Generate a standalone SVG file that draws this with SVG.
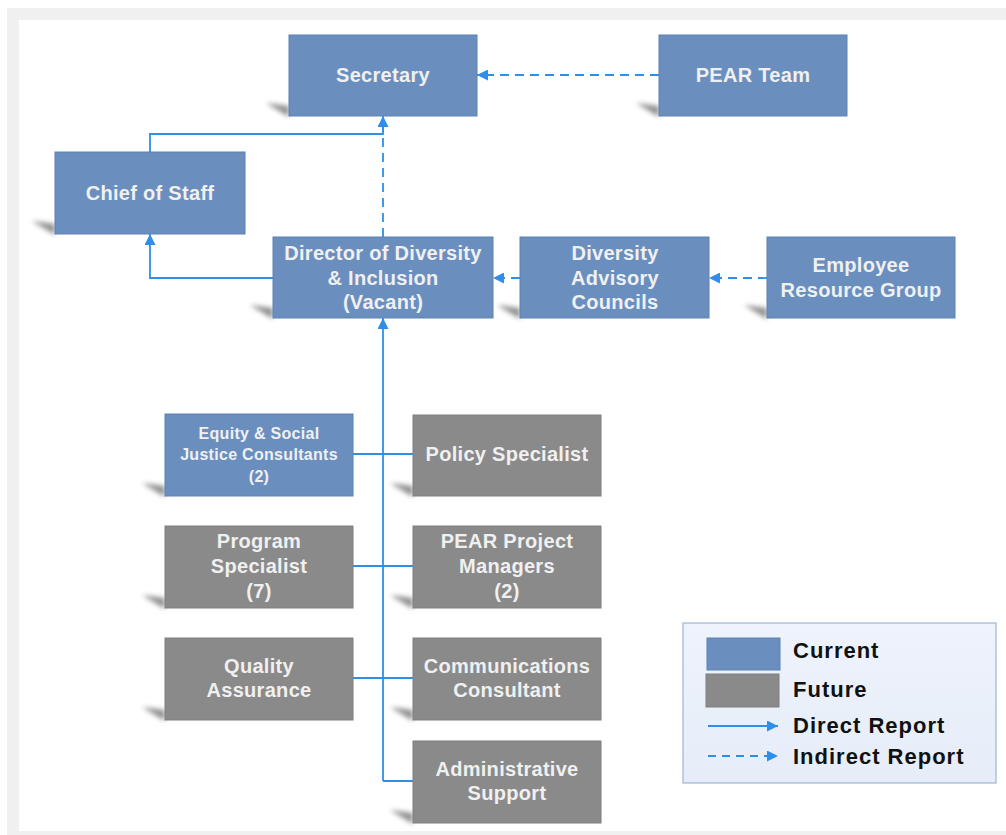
<svg xmlns="http://www.w3.org/2000/svg" width="1006" height="835" viewBox="0 0 1006 835">
<style>
.cur{fill:#6a8fbf;stroke:#5b82b5;stroke-width:1}
.fut{fill:#8a8a8a;stroke:#7f7f7f;stroke-width:1}
.t{font-family:"Liberation Sans",Arial,sans-serif;font-weight:bold;font-size:20px;fill:#f0f0f0;text-anchor:middle;letter-spacing:0.3px}
.ts{font-size:16px}
.lg{font-family:"Liberation Sans",Arial,sans-serif;font-weight:bold;font-size:22px;fill:#111;letter-spacing:1px}
.c{fill:none;stroke:#2e8ee8;stroke-width:1.8}
.d{stroke-dasharray:9 6}
.sh{fill:#444;opacity:0.6;filter:url(#blur)}
</style>
<defs>
<marker id="ah2" viewBox="0 0 10 10" refX="10" refY="5" markerWidth="11" markerHeight="11" orient="auto" markerUnits="userSpaceOnUse">
<path d="M0,0 L10,5 L0,10 z" fill="#2e8ee8"/>
</marker>
<filter id="blur" x="-50%" y="-50%" width="200%" height="200%"><feGaussianBlur stdDeviation="2.5"/></filter>
<linearGradient id="lgbg" x1="0" y1="0" x2="0" y2="1">
<stop offset="0" stop-color="#eef3fc"/><stop offset="1" stop-color="#e6edf8"/>
</linearGradient>
</defs>
<rect x="7" y="8" width="1010" height="840" fill="#f0f0f0"/>
<rect x="19" y="20" width="1000" height="811" fill="#ffffff"/>

<g id="shadows">
<path class="sh" d="M266,103 L289,106 L289,117 Z"/>
<path class="sh" d="M32,221 L55,224 L55,235 Z"/>
<path class="sh" d="M250,305 L273,308 L273,319 Z"/>
<path class="sh" d="M636,103 L659,106 L659,117 Z"/>
<path class="sh" d="M497,305 L520,308 L520,319 Z"/>
<path class="sh" d="M744,305 L767,308 L767,319 Z"/>
<path class="sh" d="M142,483 L165,486 L165,497 Z"/>
<path class="sh" d="M390,483 L413,486 L413,497 Z"/>
<path class="sh" d="M142,595 L165,598 L165,609 Z"/>
<path class="sh" d="M390,595 L413,598 L413,609 Z"/>
<path class="sh" d="M142,707 L165,710 L165,721 Z"/>
<path class="sh" d="M390,707 L413,710 L413,721 Z"/>
<path class="sh" d="M390,810 L413,813 L413,824 Z"/>
</g>

<g id="connectors">
<path class="c d" d="M659,75 H477" marker-end="url(#ah2)"/>
<path class="c" d="M150,152 V134 H383 V116" marker-end="url(#ah2)"/>
<path class="c d" d="M383,237 V118"/>
<path class="c" d="M273,278 H150 V234" marker-end="url(#ah2)"/>
<path class="c d" d="M520,278 H493" marker-end="url(#ah2)"/>
<path class="c d" d="M767,278 H709" marker-end="url(#ah2)"/>
<path class="c" d="M383,781 V318" marker-end="url(#ah2)"/>
<path class="c" d="M353,454 H413 M353,566 H413 M353,678 H413 M383,781 H413"/>
</g>

<g id="secretary"><rect class="cur" x="289" y="35" width="188" height="81"/><text class="t" x="383" y="82">Secretary</text></g>
<g id="pear-team"><rect class="cur" x="659" y="35" width="188" height="81"/><text class="t" x="753" y="82">PEAR Team</text></g>
<g id="chief-of-staff"><rect class="cur" x="55" y="152" width="190" height="82"/><text class="t" x="150" y="200">Chief of Staff</text></g>
<g id="director"><rect class="cur" x="273" y="237" width="220" height="81"/><text class="t" x="383" y="260">Director of Diversity</text><text class="t" x="383" y="285">&amp; Inclusion</text><text class="t" x="383" y="309">(Vacant)</text></g>
<g id="diversity-advisory"><rect class="cur" x="520" y="237" width="189" height="81"/><text class="t" x="615" y="260">Diversity</text><text class="t" x="615" y="285">Advisory</text><text class="t" x="615" y="309">Councils</text></g>
<g id="employee-resource"><rect class="cur" x="767" y="237" width="188" height="81"/><text class="t" x="861" y="272">Employee</text><text class="t" x="861" y="297">Resource Group</text></g>
<g id="equity"><rect class="cur" x="165" y="414" width="188" height="82"/><text class="t ts" x="259" y="439">Equity &amp; Social</text><text class="t ts" x="259" y="460">Justice Consultants</text><text class="t ts" x="259" y="482">(2)</text></g>
<g id="policy"><rect class="fut" x="413" y="415" width="188" height="81"/><text class="t" x="507" y="461">Policy Specialist</text></g>
<g id="program"><rect class="fut" x="165" y="526" width="188" height="82"/><text class="t" x="259" y="548">Program</text><text class="t" x="259" y="573">Specialist</text><text class="t" x="259" y="598">(7)</text></g>
<g id="pear-pm"><rect class="fut" x="413" y="526" width="188" height="82"/><text class="t" x="507" y="548">PEAR Project</text><text class="t" x="507" y="573">Managers</text><text class="t" x="507" y="598">(2)</text></g>
<g id="quality"><rect class="fut" x="165" y="638" width="188" height="82"/><text class="t" x="259" y="673">Quality</text><text class="t" x="259" y="697">Assurance</text></g>
<g id="communications"><rect class="fut" x="413" y="638" width="188" height="82"/><text class="t" x="507" y="673">Communications</text><text class="t" x="507" y="697">Consultant</text></g>
<g id="administrative"><rect class="fut" x="413" y="741" width="188" height="82"/><text class="t" x="507" y="776">Administrative</text><text class="t" x="507" y="800">Support</text></g>

<g id="legend">
<rect x="683" y="623" width="313" height="160" fill="url(#lgbg)" stroke="#9db4d6" stroke-width="1.2"/>
<rect class="cur" x="707" y="638" width="73" height="32"/>
<rect class="fut" x="706" y="674" width="73" height="33"/>
<path class="c" d="M708,726 H778" marker-end="url(#ah2)"/>
<path class="c" d="M708,756 H778" stroke-dasharray="8 6" marker-end="url(#ah2)"/>
<text class="lg" x="793" y="658">Current</text>
<text class="lg" x="793" y="697">Future</text>
<text class="lg" x="793" y="733">Direct Report</text>
<text class="lg" x="793" y="764">Indirect Report</text>
</g>
</svg>
